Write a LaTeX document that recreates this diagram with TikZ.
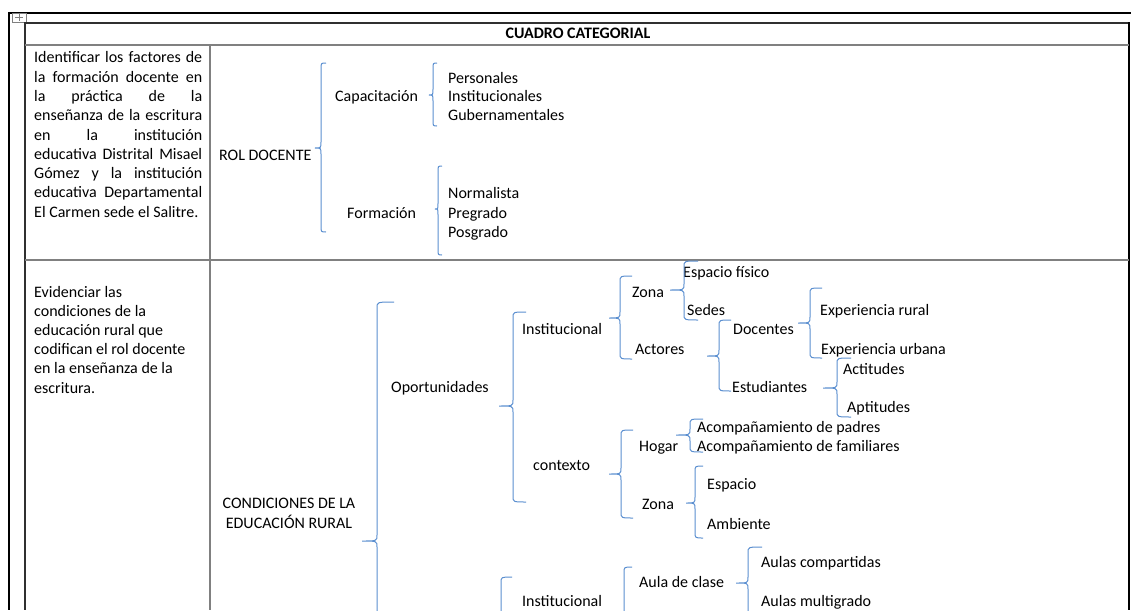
\documentclass[tikz,border=0pt]{standalone}
\usepackage{fontspec}
\setmainfont{Carlito}
\definecolor{brc}{HTML}{5B8FD0}
\definecolor{rulegray}{HTML}{808080}
\definecolor{darkline}{HTML}{303030}
% brace: #1 x of vertical, #2 top y, #3 tip y, #4 bottom y, #5 tip x, #6 hook end x
\newcommand{\wbr}[6]{%
  \draw[brace] (#6,#2) .. controls (#1,#2) .. (#1,#2+6) -- (#1,#3-6)
    .. controls (#1,#3) .. (#5,#3) .. controls (#1,#3) .. (#1,#3+6)
    -- (#1,#4-6) .. controls (#1,#4) .. (#6,#4);}
\newcommand{\jline}[1]{\makebox[168pt][s]{#1}}
\begin{document}
\begin{tikzpicture}[x=1pt,y=-1pt,
  txt/.style={anchor=base west,inner sep=0pt,font=\fontsize{16}{19.3}\selectfont},
  brace/.style={draw=brc,line width=1pt},
  grayrule/.style={draw=rulegray,line width=1.6pt},
  darkrule/.style={draw=darkline,line width=1.2pt}]
\useasboundingbox (0,0) rectangle (1131,610);
\fill[white] (0,0) rectangle (1131,610);
\begin{scope}
\clip (0,0) rectangle (1131,610);
% outer frame
\draw[line width=2pt,black] (8,13) -- (1131,13);
\draw[line width=2.5pt,black] (9,12) -- (9,610);
% anchor icon
\draw[gray,line width=0.6pt] (12,13.5) rectangle (26,22);
\draw[gray,line width=0.6pt] (19,14.5) -- (19,21) (15,17.8) -- (23,17.8);
% table
\draw[darkrule] (25,23) -- (1129,23);
\draw[darkrule] (25,22.5) -- (25,610);
\draw[black,line width=1.5pt] (1129,22.5) -- (1129,610);
\draw[grayrule] (25,45.3) -- (1129,45.3);
\draw[grayrule] (210,45.3) -- (210,610);
\draw[grayrule,line width=2pt] (25,260) -- (1129,260);
% header
\node[txt,anchor=base,font=\fontsize{16}{19.3}\selectfont\bfseries] (head) at (578,39) {CUADRO CATEGORIAL};
% row 1 left column
\node[txt] (a1) at (34,63) {\jline{Identificar los factores de}};
\node[txt] (a2) at (34,82.25) {\jline{la formación docente en}};
\node[txt] (a3) at (34,101.5) {\jline{la práctica de la}};
\node[txt] (a4) at (34,120.75) {\jline{enseñanza de la escritura}};
\node[txt] (a5) at (34,140) {\jline{en la institución}};
\node[txt] (a6) at (34,159.25) {\jline{educativa Distrital Misael}};
\node[txt] (a7) at (34,178.5) {\jline{Gómez y la institución}};
\node[txt] (a8) at (34,197.75) {\jline{educativa Departamental}};
\node[txt] (a9) at (34,217) {El Carmen sede el Salitre.};
% row 2 left column
\node[txt] (b1) at (34,297) {Evidenciar las};
\node[txt] (b2) at (34,316.2) {condiciones de la};
\node[txt] (b3) at (34,335.4) {educación rural que};
\node[txt] (b4) at (34,354.6) {codifican el rol docente};
\node[txt] (b5) at (34,373.8) {en la enseñanza de la};
\node[txt] (b6) at (34,393) {escritura.};
% row 1 tree
\node[txt] (rol) at (219,160) {ROL DOCENTE};
\node[txt] (cap) at (335,101) {Capacitación};
\node[txt] (per) at (448,83) {Personales};
\node[txt] (ins) at (448,101) {Institucionales};
\node[txt] (gub) at (448,120) {Gubernamentales};
\node[txt] (for) at (347,218) {Formación};
\node[txt] (nor) at (448,198) {Normalista};
\node[txt] (pre) at (448,218) {Pregrado};
\node[txt] (pos) at (448,237) {Posgrado};
\wbr{321}{63}{148}{232}{315}{326}
\wbr{433}{63}{95}{126}{429}{437}
\wbr{438}{166}{209}{255}{435}{442}
% row 2 tree
\node[anchor=center,inner sep=0pt,align=center,font=\fontsize{16}{19.3}\selectfont] (cond) at (289,513.5) {CONDICIONES DE LA\\EDUCACIÓN RURAL};
\node[txt] (opo) at (391,392) {Oportunidades};
\node[txt] (inst) at (522,334) {Institucional};
\node[txt] (zona) at (632,297) {Zona};
\node[txt] (esf) at (683,277) {Espacio físico};
\node[txt] (sed) at (687,315) {Sedes};
\node[txt] (act) at (635,354) {Actores};
\node[txt] (doc) at (733,334) {Docentes};
\node[txt] (est) at (732,392) {Estudiantes};
\node[txt] (exr) at (820,315) {Experiencia rural};
\node[txt] (exu) at (821,354) {Experiencia urbana};
\node[txt] (acti) at (843,374) {Actitudes};
\node[txt] (apti) at (847,412) {Aptitudes};
\node[txt] (ctx) at (533,470) {contexto};
\node[txt] (hog) at (639,451) {Hogar};
\node[txt] (acp) at (697,432) {Acompañamiento de padres};
\node[txt] (acf) at (697,451) {Acompañamiento de familiares};
\node[txt] (zona2) at (642,509) {Zona};
\node[txt] (esp) at (707,489) {Espacio};
\node[txt] (amb) at (707,529) {Ambiente};
\node[txt] (inst2) at (522,606) {Institucional};
\node[txt] (aula) at (639,587) {Aula de clase};
\node[txt] (auc) at (761,567) {Aulas compartidas};
\node[txt] (aum) at (761,606) {Aulas multigrado};
\wbr{377}{302}{541}{800}{362}{394}
\wbr{513}{312}{406}{502}{499}{526}
\wbr{620}{276}{318}{359}{609}{632}
\wbr{684}{261}{290}{320}{670}{698}
\wbr{719}{320}{356}{391}{707}{731}
\wbr{810}{288}{323}{358}{798}{822}
\wbr{837}{358}{388}{417}{823}{851}
\wbr{621}{430}{474}{518}{609}{633}
\wbr{690}{419}{435}{452}{676}{703}
\wbr{695}{466}{503}{538}{686}{703}
\wbr{501}{577}{680}{760}{488}{512}
\wbr{624}{567}{650}{720}{612}{632}
\wbr{748}{547}{583}{620}{736}{762}
\end{scope}
\end{tikzpicture}
\end{document}
